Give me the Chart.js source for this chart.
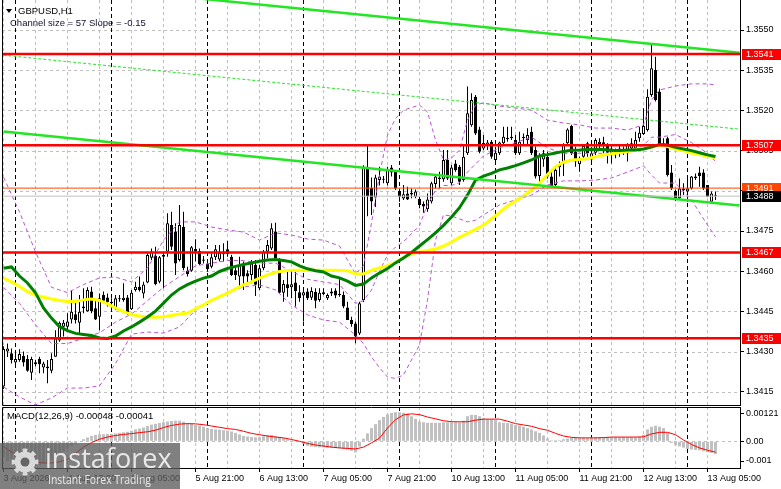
<!DOCTYPE html>
<html>
<head>
<meta charset="utf-8">
<title>GBPUSD,H1</title>
<script src="https://cdn.jsdelivr.net/npm/chart.js@4.4.1/dist/chart.umd.min.js"></script>
<style>
  html, body { margin: 0; padding: 0; background: #fff; }
  #wrap { position: relative; width: 781px; height: 489px; overflow: hidden; }
  canvas { position: absolute; left: 0; }
  #priceChart { top: 0; }
  #macdChart { top: 406px; }
</style>
</head>
<body>
<div id="wrap">
  <canvas id="priceChart" width="781" height="406"></canvas>
  <canvas id="macdChart" width="781" height="83"></canvas>
</div>
<script>
// GBPUSD H1 candles, first bar = 3 Aug 21:00, last bar = 13 Aug 07:00
const opens = [
  1.34170,1.34300,1.34294,1.34259,1.34269,1.34284,1.34272,1.34221,1.34260,1.34272,
  1.34241,1.34244,1.34229,1.34281,1.34341,1.34393,1.34393,1.34420,1.34439,1.34408,
  1.34462,1.34451,1.34524,1.34462,1.34430,1.34511,1.34502,1.34486,1.34462,1.34495,
  1.34493,1.34502,1.34458,1.34530,1.34542,1.34517,1.34558,1.34650,1.34658,1.34561,
  1.34654,1.34673,1.34772,1.34748,1.34642,1.34766,1.34602,1.34602,1.34683,1.34675,
  1.34644,1.34629,1.34617,1.34652,1.34644,1.34673,1.34682,1.34654,1.34604,1.34580,
  1.34629,1.34592,1.34586,1.34623,1.34536,1.34611,1.34673,1.34685,1.34748,1.34642,
  1.34520,1.34551,1.34540,1.34558,1.34521,1.34509,1.34524,1.34501,1.34522,1.34493,
  1.34521,1.34499,1.34517,1.34528,1.34515,1.34511,1.34465,1.34418,1.34405,1.34368,
  1.34492,1.34990,1.34910,1.34875,1.34940,1.34944,1.34928,1.34987,1.34971,1.34899,
  1.34871,1.34890,1.34886,1.34878,1.34869,1.34851,1.34831,1.34860,1.34925,1.34944,
  1.34943,1.35015,1.34928,1.35002,1.34990,1.34940,1.35040,1.35145,1.35251,1.35129,
  1.35058,1.35071,1.35083,1.35015,1.35040,1.35077,1.35092,1.35096,1.35090,1.35040,
  1.35096,1.35089,1.35120,1.35052,1.34955,1.35017,1.35027,1.34953,1.34922,1.34988,
  1.35002,1.35077,1.35142,1.35046,1.34999,1.35027,1.35077,1.35017,1.35042,1.35075,
  1.35081,1.35071,1.35040,1.35050,1.35042,1.35046,1.35040,1.35058,1.35058,1.35096,
  1.35112,1.35127,1.35257,1.35351,1.35270,1.35077,1.35096,1.34968,1.34899,1.34872,
  1.34903,1.34897,1.34909,1.34953,1.34968,1.34968,1.34922,1.34859,1.34881
];
const highs = [
  1.34320,1.34330,1.34312,1.34294,1.34309,1.34300,1.34287,1.34281,1.34270,1.34281,
  1.34262,1.34269,1.34294,1.34380,1.34412,1.34418,1.34443,1.34530,1.34493,1.34511,
  1.34536,1.34540,1.34542,1.34493,1.34517,1.34524,1.34517,1.34499,1.34511,1.34511,
  1.34555,1.34511,1.34530,1.34561,1.34580,1.34561,1.34667,1.34685,1.34691,1.34657,
  1.34673,1.34816,1.34822,1.34779,1.34847,1.34822,1.34617,1.34694,1.34719,1.34685,
  1.34657,1.34642,1.34667,1.34698,1.34698,1.34704,1.34713,1.34661,1.34617,1.34654,
  1.34636,1.34604,1.34642,1.34642,1.34623,1.34679,1.34716,1.34779,1.34781,1.34648,
  1.34567,1.34598,1.34604,1.34598,1.34548,1.34530,1.34536,1.34540,1.34536,1.34536,
  1.34536,1.34517,1.34536,1.34536,1.34573,1.34524,1.34486,1.34430,1.34412,1.34486,
  1.34995,1.35070,1.34950,1.34960,1.34990,1.34955,1.34990,1.34996,1.34977,1.34909,
  1.34922,1.34915,1.34909,1.34905,1.34878,1.34860,1.34890,1.34934,1.34959,1.34971,
  1.35052,1.35052,1.34996,1.35015,1.34996,1.35071,1.35289,1.35264,1.35257,1.35139,
  1.35108,1.35090,1.35090,1.35052,1.35083,1.35139,1.35139,1.35139,1.35108,1.35120,
  1.35114,1.35133,1.35139,1.35065,1.35040,1.35052,1.35046,1.34978,1.34990,1.35009,
  1.35077,1.35133,1.35146,1.35065,1.35027,1.35071,1.35083,1.35058,1.35096,1.35096,
  1.35102,1.35077,1.35071,1.35058,1.35071,1.35065,1.35077,1.35096,1.35120,1.35139,
  1.35208,1.35279,1.35444,1.35400,1.35282,1.35096,1.35102,1.34996,1.34905,1.34946,
  1.34928,1.34953,1.34955,1.34965,1.34990,1.34980,1.34922,1.34897,1.34897
];
const lows = [
  1.34160,1.34280,1.34256,1.34244,1.34262,1.34244,1.34225,1.34194,1.34245,1.34219,
  1.34219,1.34182,1.34219,1.34281,1.34337,1.34356,1.34380,1.34405,1.34405,1.34362,
  1.34443,1.34449,1.34443,1.34418,1.34380,1.34480,1.34468,1.34449,1.34455,1.34486,
  1.34486,1.34437,1.34455,1.34524,1.34524,1.34499,1.34555,1.34642,1.34548,1.34555,
  1.34536,1.34654,1.34679,1.34586,1.34636,1.34604,1.34580,1.34598,1.34636,1.34623,
  1.34629,1.34598,1.34611,1.34642,1.34636,1.34636,1.34654,1.34582,1.34567,1.34542,
  1.34530,1.34555,1.34555,1.34507,1.34530,1.34604,1.34648,1.34679,1.34644,1.34517,
  1.34486,1.34505,1.34499,1.34468,1.34486,1.34412,1.34493,1.34493,1.34462,1.34486,
  1.34511,1.34493,1.34507,1.34499,1.34505,1.34462,1.34418,1.34393,1.34331,1.34362,
  1.34485,1.34805,1.34810,1.34840,1.34920,1.34928,1.34920,1.34953,1.34903,1.34859,
  1.34866,1.34866,1.34872,1.34872,1.34835,1.34818,1.34822,1.34853,1.34909,1.34909,
  1.34934,1.34940,1.34922,1.34971,1.34922,1.34934,1.35034,1.35139,1.35108,1.35040,
  1.35052,1.35052,1.35020,1.35009,1.35034,1.35071,1.35083,1.35090,1.35034,1.35034,
  1.35071,1.35071,1.35034,1.34946,1.34928,1.34990,1.34946,1.34915,1.34915,1.34953,
  1.34955,1.35071,1.35034,1.34990,1.34971,1.35021,1.35027,1.35009,1.35034,1.35052,
  1.35040,1.35002,1.35002,1.35021,1.35027,1.35034,1.35009,1.35046,1.35052,1.35083,
  1.35108,1.35121,1.35251,1.35233,1.35065,1.35065,1.34953,1.34903,1.34862,1.34866,
  1.34884,1.34859,1.34905,1.34940,1.34915,1.34903,1.34878,1.34859,1.34866
];
const closes = [
  1.34310,1.34312,1.34269,1.34272,1.34291,1.34259,1.34229,1.34272,1.34253,1.34253,
  1.34256,1.34238,1.34272,1.34349,1.34408,1.34408,1.34412,1.34449,1.34418,1.34449,
  1.34468,1.34530,1.34451,1.34420,1.34499,1.34490,1.34484,1.34480,1.34499,1.34499,
  1.34501,1.34445,1.34520,1.34542,1.34530,1.34550,1.34660,1.34673,1.34552,1.34652,
  1.34660,1.34779,1.34691,1.34629,1.34772,1.34611,1.34590,1.34689,1.34673,1.34627,
  1.34639,1.34607,1.34652,1.34682,1.34669,1.34663,1.34664,1.34586,1.34586,1.34623,
  1.34580,1.34580,1.34629,1.34549,1.34611,1.34673,1.34698,1.34760,1.34648,1.34520,
  1.34552,1.34536,1.34551,1.34526,1.34499,1.34521,1.34499,1.34526,1.34490,1.34520,
  1.34515,1.34511,1.34524,1.34509,1.34511,1.34468,1.34418,1.34403,1.34356,1.34480,
  1.34990,1.34880,1.34860,1.34950,1.34953,1.34941,1.34980,1.34968,1.34909,1.34878,
  1.34887,1.34868,1.34893,1.34897,1.34847,1.34841,1.34868,1.34928,1.34953,1.34950,
  1.35015,1.34946,1.34987,1.34977,1.34934,1.35027,1.35189,1.35239,1.35114,1.35046,
  1.35078,1.35080,1.35027,1.35042,1.35080,1.35102,1.35097,1.35102,1.35040,1.35083,
  1.35102,1.35108,1.35040,1.34953,1.35034,1.35040,1.34953,1.34915,1.34978,1.34999,
  1.35071,1.35129,1.35040,1.35009,1.35017,1.35067,1.35040,1.35040,1.35090,1.35083,
  1.35071,1.35042,1.35058,1.35037,1.35058,1.35055,1.35071,1.35077,1.35090,1.35117,
  1.35142,1.35251,1.35357,1.35239,1.35071,1.35071,1.34959,1.34909,1.34868,1.34909,
  1.34909,1.34909,1.34953,1.34947,1.34955,1.34909,1.34878,1.34890,1.34880
];

// moving averages, read every second bar
const maGreen = [
  1.34611,1.34616,1.34582,1.34556,1.34519,1.34463,1.34425,1.34393,1.34378,1.34368,
  1.34364,1.34360,1.34351,1.34349,1.34358,1.34377,1.34392,1.34410,1.34429,1.34451,
  1.34481,1.34511,1.34534,1.34550,1.34563,1.34574,1.34582,1.34599,1.34610,1.34618,
  1.34625,1.34631,1.34637,1.34642,1.34644,1.34640,1.34635,1.34620,1.34609,1.34602,
  1.34597,1.34582,1.34575,1.34563,1.34547,1.34552,1.34575,1.34593,1.34610,1.34631,
  1.34649,1.34670,1.34694,1.34718,1.34743,1.34771,1.34802,1.34837,1.34884,1.34940,
  1.34955,1.34965,1.34978,1.34985,1.34994,1.35004,1.35015,1.35030,1.35035,1.35041,
  1.35047,1.35051,1.35052,1.35054,1.35055,1.35054,1.35051,1.35050,1.35052,1.35052,
  1.35056,1.35063,1.35073,1.35071,1.35062,1.35056,1.35050,1.35042,1.35034,1.35028
];
const maYellow = [
  1.34574,1.34560,1.34543,1.34524,1.34510,1.34503,1.34496,1.34491,1.34487,1.34487,
  1.34493,1.34496,1.34491,1.34478,1.34463,1.34449,1.34438,1.34433,1.34429,1.34428,
  1.34430,1.34435,1.34440,1.34444,1.34460,1.34474,1.34491,1.34504,1.34518,1.34534,
  1.34549,1.34560,1.34574,1.34586,1.34596,1.34601,1.34604,1.34604,1.34604,1.34604,
  1.34604,1.34604,1.34603,1.34602,1.34590,1.34590,1.34603,1.34612,1.34621,1.34634,
  1.34651,1.34665,1.34672,1.34677,1.34683,1.34694,1.34709,1.34726,1.34741,1.34756,
  1.34772,1.34795,1.34819,1.34843,1.34862,1.34881,1.34903,1.34928,1.34961,1.34990,
  1.35007,1.35015,1.35017,1.35020,1.35027,1.35034,1.35038,1.35042,1.35047,1.35052,
  1.35057,1.35063,1.35069,1.35065,1.35056,1.35049,1.35041,1.35036,1.35028,1.35024
];

// Bollinger bands (dashed violet), read at these bars
const bbBars = [0,4,8,12,16,20,24,28,32,36,40,44,48,52,56,60,64,68,72,76,80,84,
  88,90,92,94,96,98,100,104,106,108,110,112,114,116,118,120,
  124,128,132,136,140,144,148,152,156,160,162,164,168,172,176,178];
const bbUpper = [
  1.34951,1.34821,1.34672,1.34540,1.34520,1.34550,1.34575,1.34578,1.34560,1.34612,
  1.34716,1.34784,1.34784,1.34765,1.34754,1.34746,1.34716,1.34743,1.34735,1.34720,
  1.34716,1.34694,1.34590,1.34620,1.34780,1.34960,1.35108,1.35170,1.35201,1.35220,
  1.35194,1.35090,1.35015,1.35022,1.35052,1.35164,1.35220,1.35228,1.35216,1.35209,
  1.35201,1.35164,1.35153,1.35146,1.35134,1.35134,1.35127,1.35146,1.35239,1.35276,
  1.35291,1.35299,1.35299,1.35295
];
const bbMiddle = [
  1.34540,1.34480,1.34400,1.34330,1.34330,1.34350,1.34370,1.34410,1.34440,1.34490,
  1.34540,1.34580,1.34620,1.34630,1.34640,1.34640,1.34630,1.34630,1.34600,1.34570,
  1.34560,1.34550,1.34480,1.34490,1.34530,1.34600,1.34660,1.34690,1.34710,1.34770,
  1.34850,1.34900,1.34920,1.34920,1.34930,1.34970,1.35000,1.35030,1.35060,1.35080,
  1.35100,1.35060,1.35040,1.35040,1.35040,1.35040,1.35050,1.35070,1.35100,1.35100,
  1.35110,1.35080,1.35040,1.35010
];
const bbLower = [
  1.34168,1.34131,1.34101,1.34127,1.34164,1.34164,1.34172,1.34255,1.34365,1.34373,
  1.34369,1.34392,1.34455,1.34493,1.34522,1.34541,1.34549,1.34530,1.34474,1.34437,
  1.34418,1.34410,1.34362,1.34330,1.34280,1.34240,1.34205,1.34200,1.34213,1.34325,
  1.34493,1.34716,1.34810,1.34806,1.34795,1.34784,1.34790,1.34810,1.34847,1.34866,
  1.34884,1.34922,1.34937,1.34937,1.34940,1.34948,1.34970,1.34993,1.34959,1.34929,
  1.34929,1.34866,1.34772,1.34728
];

// regression channel (57 pips, slope -0.15), ends at bar 0 and bar 184
const channelBars = [0, 184];
const channelUpper = [1.35691, 1.35415];
const channelMiddle = [1.35406, 1.35130];
const channelLower = [1.35121, 1.34845];

// horizontal levels
const redLevels = [1.3541, 1.3507, 1.3467, 1.3435];
const orangeLevel = 1.3491;
const bidLevel = 1.3488;

// MACD(12,26,9): histogram per bar, signal every second bar
const macdMain = [
  -0.00060,-0.00075,-0.00085,-0.00092,-0.00098,-0.00100,-0.00100,-0.00098,-0.00095,-0.00090,
  -0.00085,-0.00080,-0.00072,-0.00060,-0.00048,-0.00038,-0.00028,-0.00018,-0.00010,-0.00003,
  0.00008,0.00014,0.00020,0.00024,0.00027,0.00027,0.00028,0.00028,0.00030,0.00032,
  0.00034,0.00036,0.00040,0.00045,0.00048,0.00052,0.00058,0.00063,0.00066,0.00069,
  0.00072,0.00075,0.00077,0.00078,0.00078,0.00074,0.00069,0.00066,0.00062,0.00059,
  0.00055,0.00050,0.00047,0.00045,0.00044,0.00042,0.00040,0.00037,0.00032,0.00026,
  0.00020,0.00018,0.00016,0.00015,0.00015,0.00019,0.00024,0.00024,0.00020,0.00017,
  0.00012,0.00007,0.00004,0.00001,-0.00002,-0.00010,-0.00017,-0.00020,-0.00022,-0.00023,
  -0.00023,-0.00024,-0.00025,-0.00026,-0.00027,-0.00029,-0.00031,-0.00036,-0.00042,-0.00020,
  0.00010,0.00030,0.00050,0.00065,0.00080,0.00092,0.00102,0.00107,0.00110,0.00110,
  0.00108,0.00105,0.00095,0.00085,0.00075,0.00072,0.00070,0.00070,0.00070,0.00070,
  0.00072,0.00072,0.00072,0.00072,0.00072,0.00078,0.00095,0.00100,0.00100,0.00095,
  0.00088,0.00084,0.00084,0.00080,0.00072,0.00070,0.00069,0.00066,0.00062,0.00059,
  0.00055,0.00050,0.00045,0.00038,0.00032,0.00022,0.00010,0.00004,0.00004,0.00004,
  0.00008,0.00010,0.00013,0.00013,0.00013,0.00013,0.00013,0.00014,0.00016,0.00016,
  0.00016,0.00016,0.00016,0.00016,0.00016,0.00016,0.00016,0.00016,0.00016,0.00017,
  0.00025,0.00045,0.00055,0.00059,0.00055,0.00050,0.00032,-0.00006,-0.00015,-0.00019,
  -0.00024,-0.00029,-0.00031,-0.00033,-0.00034,-0.00038,-0.00041,-0.00044,-0.00048
];
const macdSignal = [
  -0.00020,-0.00040,-0.00055,-0.00068,-0.00078,-0.00082,-0.00082,-0.00078,-0.00068,-0.00045,
  -0.00022,-0.00005,0.00008,0.00016,0.00022,0.00026,0.00029,0.00033,0.00036,0.00042,
  0.00052,0.00060,0.00065,0.00067,0.00066,0.00063,0.00058,0.00053,0.00048,0.00045,
  0.00038,0.00030,0.00025,0.00020,0.00016,0.00013,0.00007,0.00000,-0.00008,-0.00014,
  -0.00018,-0.00022,-0.00025,-0.00027,-0.00029,-0.00022,-0.00006,0.00012,0.00050,0.00082,
  0.00100,0.00104,0.00101,0.00092,0.00085,0.00078,0.00074,0.00074,0.00074,0.00080,
  0.00084,0.00084,0.00084,0.00076,0.00067,0.00062,0.00057,0.00048,0.00042,0.00030,
  0.00020,0.00015,0.00013,0.00013,0.00013,0.00014,0.00016,0.00016,0.00016,0.00016,
  0.00017,0.00028,0.00034,0.00034,0.00025,0.00005,-0.00012,-0.00025,-0.00034,-0.00041
];

// axes
const priceTicks = [1.3415, 1.3430, 1.3445, 1.3460, 1.3475, 1.3490, 1.3505, 1.3520, 1.3535, 1.3550];
const labelBars = [0, 16, 32, 48, 64, 80, 96, 112, 128, 144, 160, 176];
const timeLabels = ['3 Aug 2026', '4 Aug 13:00', '5 Aug 05:00', '5 Aug 21:00', '6 Aug 13:00', '7 Aug 05:00',
  '7 Aug 21:00', '10 Aug 13:00', '11 Aug 05:00', '11 Aug 21:00', '12 Aug 13:00', '13 Aug 05:00'];
const dayStartBars = [3, 27, 51, 75, 99, 123, 147, 171];
const macdTickText = ['0.00121', '0.00', '-0.001'];
const macdTickAt = [0.001045, 0, -0.000746];

const FONT = '"Liberation Sans", Arial, sans-serif';
const GRID = '#c0c0c0';
const X_MIN = -0.375, X_MAX = 184.125;

const bars = opens.map((_, k) => k);
const maBars = bars.filter(k => k % 2 === 0);
const gridBars = bars.filter(k => k % 8 === 0);

const pts = (xs, ys) => xs.map((x, k) => ({x: x, y: ys[k]}));
const flat = v => [{x: X_MIN, y: v}, {x: X_MAX, y: v}];

function line(data, color, width, order, dash) {
  return {
    type: 'line', data: data, borderColor: color, borderWidth: width,
    borderDash: dash || [], pointRadius: 0, tension: 0, fill: false, order: order
  };
}

function dashedV(ctx, xs, xScale, top, bottom) {
  ctx.beginPath();
  xs.forEach(b => {
    const px = Math.floor(xScale.getPixelForValue(b)) + 0.5;
    ctx.moveTo(px, top);
    ctx.lineTo(px, bottom);
  });
  ctx.stroke();
}

// grid, separators, frame, price boxes and titles
const priceDecor = {
  id: 'priceDecor',
  beforeDatasetsDraw(chart) {
    const {ctx, chartArea: a, scales: {x, y}} = chart;
    ctx.save();
    ctx.lineWidth = 1;
    ctx.setLineDash([3, 3]);
    ctx.strokeStyle = GRID;
    dashedV(ctx, gridBars, x, a.top, a.bottom);
    ctx.beginPath();
    priceTicks.forEach(v => {
      const py = Math.round(y.getPixelForValue(v)) + 0.5;
      ctx.moveTo(a.left, py);
      ctx.lineTo(a.right, py);
    });
    ctx.stroke();
    ctx.setLineDash([4, 3]);
    ctx.strokeStyle = '#000';
    dashedV(ctx, dayStartBars, x, a.top, a.bottom);
    ctx.restore();
  },
  afterDraw(chart) {
    const {ctx, chartArea: a, scales: {y}} = chart;
    ctx.save();
    ctx.strokeStyle = '#000';
    ctx.lineWidth = 1;
    ctx.beginPath();
    ctx.moveTo(a.left + 0.5, a.top);
    ctx.lineTo(a.left + 0.5, a.bottom + 0.5);
    ctx.lineTo(a.right, a.bottom + 0.5);
    ctx.stroke();

    const boxes = redLevels.map(v => ({v: v, bg: '#ff0000'}));
    boxes.push({v: orangeLevel, bg: '#ff4500'});
    boxes.push({v: bidLevel, bg: '#000000'});
    ctx.font = '9px ' + FONT;
    ctx.textBaseline = 'middle';
    boxes.forEach(b => {
      const py = Math.round(y.getPixelForValue(b.v));
      ctx.fillStyle = b.bg;
      ctx.fillRect(742, py - 5, 39, 11);
      ctx.fillStyle = '#ffffff';
      ctx.fillText(b.v.toFixed(4), 746, py + 0.5);
    });

    ctx.fillStyle = '#000';
    ctx.beginPath();
    ctx.moveTo(6, 9);
    ctx.lineTo(12, 9);
    ctx.lineTo(9, 13);
    ctx.closePath();
    ctx.fill();
    ctx.font = '9.5px ' + FONT;
    ctx.fillText('GBPUSD,H1', 18, 11);
    ctx.fillStyle = '#101030';
    ctx.fillText('Channel size = 57 Slope = -0.15', 10, 23.5);
    ctx.restore();
  }
};

function drawGear(ctx, cx, cy) {
  const teeth = 8;
  ctx.beginPath();
  for (let t = 0; t < teeth * 2; t++) {
    const a0 = t / (teeth * 2) * Math.PI * 2 - 0.2;
    const a1 = (t + 1) / (teeth * 2) * Math.PI * 2 - 0.2;
    ctx.arc(cx, cy, t % 2 === 0 ? 13.5 : 10.5, a0, a1);
  }
  ctx.closePath();
  ctx.fill();
}

function drawLogo(ctx) {
  ctx.save();
  ctx.fillStyle = 'rgba(92,92,92,0.78)';
  ctx.fillRect(0, 37, 180, 46);
  ctx.fillStyle = 'rgba(226,226,226,0.92)';
  drawGear(ctx, 25, 56);
  ctx.fillStyle = 'rgba(100,100,100,1)';
  ctx.beginPath();
  ctx.arc(25, 56, 4.5, 0, Math.PI * 2);
  ctx.fill();
  ctx.fillStyle = 'rgba(238,238,238,0.95)';
  ctx.textBaseline = 'alphabetic';
  ctx.font = '27px "Open Sans", sans-serif';
  ctx.fillText('instaforex', 45, 62, 129);
  ctx.font = '12px "Open Sans", sans-serif';
  ctx.fillText('Instant Forex Trading', 48, 78, 103);
  ctx.restore();
}

const macdDecor = {
  id: 'macdDecor',
  beforeDatasetsDraw(chart) {
    const {ctx, chartArea: a, scales: {x, y}} = chart;
    ctx.save();
    ctx.lineWidth = 1;
    ctx.setLineDash([3, 3]);
    ctx.strokeStyle = GRID;
    dashedV(ctx, gridBars, x, a.top, a.bottom);
    const zy = Math.round(y.getPixelForValue(0)) + 0.5;
    ctx.beginPath();
    ctx.moveTo(a.left, zy);
    ctx.lineTo(a.right, zy);
    ctx.stroke();
    ctx.setLineDash([4, 3]);
    ctx.strokeStyle = '#000';
    dashedV(ctx, dayStartBars, x, a.top, a.bottom);
    ctx.restore();
  },
  afterDraw(chart) {
    const {ctx, chartArea: a} = chart;
    ctx.save();
    ctx.strokeStyle = '#000';
    ctx.lineWidth = 1;
    ctx.beginPath();
    ctx.moveTo(a.left + 0.5, a.bottom);
    ctx.lineTo(a.left + 0.5, a.top + 0.5);
    ctx.lineTo(a.right, a.top + 0.5);
    ctx.stroke();
    ctx.fillStyle = '#000';
    ctx.font = '9.5px ' + FONT;
    ctx.textBaseline = 'middle';
    ctx.fillText('MACD(12,26,9) -0.00048 -0.00041', 7, 10.5);
    ctx.restore();
    drawLogo(ctx);
  }
};

const tickFont = {family: FONT, size: 9};

new Chart(document.getElementById('priceChart'), {
  type: 'bar',
  data: {
    datasets: [
      ...redLevels.map(v => line(flat(v), '#ff0000', 2.5, 1)),
      line(flat(orangeLevel), '#ff4500', 1, 1),
      line(flat(bidLevel), '#c0c0c0', 1, 1),
      line(pts(channelBars, channelUpper), '#22e622', 2.5, 2),
      line(pts(channelBars, channelLower), '#22e622', 2.5, 2),
      line(pts(channelBars, channelMiddle), '#22e622', 1, 2, [3, 2]),
      line(pts(maBars, maGreen), '#008000', 3, 3),
      line(pts(maBars, maYellow), '#ffff00', 3, 4),
      line(pts(bbBars, bbUpper), '#ba55d3', 1, 5, [4, 3]),
      line(pts(bbBars, bbMiddle), '#ba55d3', 1, 5, [4, 3]),
      line(pts(bbBars, bbLower), '#ba55d3', 1, 5, [4, 3]),
      {
        type: 'bar', order: 6,
        data: bars.map(k => ({x: k, y: [opens[k], closes[k]]})),
        backgroundColor: bars.map(k => closes[k] >= opens[k] ? '#ffffff' : '#000000'),
        borderColor: '#000000', borderWidth: 1, borderSkipped: false,
        barThickness: 3, minBarLength: 1, grouped: false, inflateAmount: 0
      },
      {
        type: 'bar', order: 7,
        data: bars.map(k => ({x: k, y: [lows[k], highs[k]]})),
        backgroundColor: '#000000', borderWidth: 0,
        barThickness: 1, grouped: false, inflateAmount: 0
      }
    ]
  },
  options: {
    responsive: false,
    animation: false,
    devicePixelRatio: 1,
    events: [],
    layout: {padding: {left: 2, top: 0, right: 0, bottom: 1}},
    plugins: {legend: {display: false}, tooltip: {enabled: false}},
    scales: {
      x: {type: 'linear', min: X_MIN, max: X_MAX, offset: false, display: false, grid: {offset: false}},
      y: {
        type: 'linear', position: 'right', min: 1.3410075, max: 1.3561194, bounds: 'data',
        afterBuildTicks: s => { s.ticks = priceTicks.map(v => ({value: v})); },
        afterFit: s => { s.width = 41; s.paddingTop = 0; s.paddingBottom = 0; },
        ticks: {autoSkip: false, padding: 2, color: '#000', font: tickFont, callback: v => v.toFixed(4)},
        grid: {drawOnChartArea: false, tickLength: 4, color: '#000'},
        border: {display: true, color: '#000'}
      }
    }
  },
  plugins: [priceDecor]
});

new Chart(document.getElementById('macdChart'), {
  type: 'bar',
  data: {
    datasets: [
      line(pts(maBars, macdSignal), '#ff0000', 1, 1),
      {
        type: 'bar', order: 2,
        data: pts(bars, macdMain),
        backgroundColor: '#c0c0c0', borderWidth: 0,
        barThickness: 3, grouped: false, inflateAmount: 0
      }
    ]
  },
  options: {
    responsive: false,
    animation: false,
    devicePixelRatio: 1,
    events: [],
    layout: {padding: {left: 2, top: 1, right: 0, bottom: 0}},
    plugins: {legend: {display: false}, tooltip: {enabled: false}},
    scales: {
      x: {
        type: 'linear', min: X_MIN, max: X_MAX, offset: false, position: 'bottom',
        afterBuildTicks: s => { s.ticks = labelBars.map(v => ({value: v})); },
        afterFit: s => { s.height = 21; s.paddingLeft = 0; s.paddingRight = 0; },
        ticks: {
          autoSkip: false, maxRotation: 0, minRotation: 0, align: 'start', padding: 1,
          color: '#000', font: tickFont, callback: (v, i) => timeLabels[i]
        },
        grid: {drawOnChartArea: false, tickLength: 4, color: '#000', offset: false},
        border: {display: true, color: '#000'}
      },
      y: {
        type: 'linear', position: 'right', min: -0.001011, max: 0.001299, bounds: 'data',
        afterBuildTicks: s => { s.ticks = macdTickAt.map(v => ({value: v})); },
        afterFit: s => { s.width = 41; s.paddingTop = 0; s.paddingBottom = 0; },
        ticks: {autoSkip: false, padding: 2, color: '#000', font: tickFont, callback: (v, i) => macdTickText[i]},
        grid: {drawOnChartArea: false, tickLength: 4, color: '#000'},
        border: {display: true, color: '#000'}
      }
    }
  },
  plugins: [macdDecor]
});
</script>
</body>
</html>
